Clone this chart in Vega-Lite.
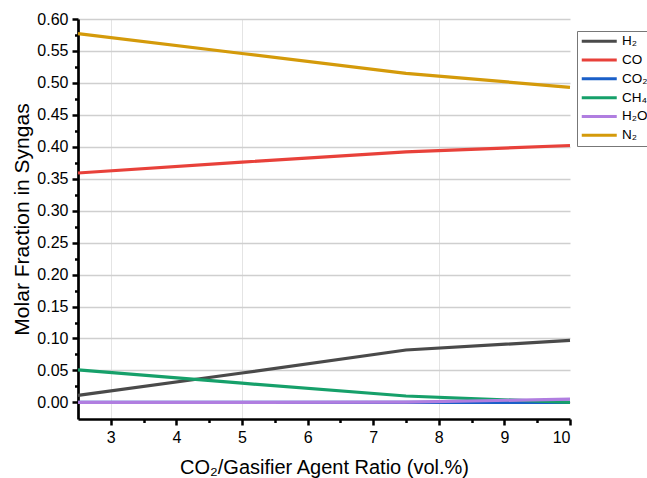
{
  "$schema": "https://vega.github.io/schema/vega-lite/v6.json",
  "autosize": {"type": "none"},
  "padding": {"left": 78, "top": 19, "right": 77, "bottom": 59},
  "width": 492,
  "height": 400,
  "config": {
    "view": {"stroke": null},
    "font": "Liberation Sans",
    "axis": {
      "labelFont": "Liberation Sans",
      "titleFont": "Liberation Sans",
      "labelColor": "#000000",
      "titleColor": "#000000",
      "titleFontWeight": "normal",
      "tickColor": "#000000",
      "domainColor": "#000000"
    }
  },
  "data": {
    "values": [
      {"gas": "H₂", "ratio": 2.5, "fraction": 0.011},
      {"gas": "H₂", "ratio": 5, "fraction": 0.046},
      {"gas": "H₂", "ratio": 7.5, "fraction": 0.082},
      {"gas": "H₂", "ratio": 10, "fraction": 0.097},
      {"gas": "CO", "ratio": 2.5, "fraction": 0.359},
      {"gas": "CO", "ratio": 5, "fraction": 0.376},
      {"gas": "CO", "ratio": 7.5, "fraction": 0.392},
      {"gas": "CO", "ratio": 10, "fraction": 0.402},
      {"gas": "CO₂", "ratio": 2.5, "fraction": 0.0},
      {"gas": "CO₂", "ratio": 5, "fraction": 0.0},
      {"gas": "CO₂", "ratio": 7.5, "fraction": 0.0},
      {"gas": "CO₂", "ratio": 10, "fraction": 0.0},
      {"gas": "CH₄", "ratio": 2.5, "fraction": 0.051},
      {"gas": "CH₄", "ratio": 5, "fraction": 0.030},
      {"gas": "CH₄", "ratio": 7.5, "fraction": 0.010},
      {"gas": "CH₄", "ratio": 10, "fraction": 0.0},
      {"gas": "H₂O", "ratio": 2.5, "fraction": 0.0},
      {"gas": "H₂O", "ratio": 5, "fraction": 0.0},
      {"gas": "H₂O", "ratio": 7.5, "fraction": 0.0005},
      {"gas": "H₂O", "ratio": 10, "fraction": 0.005},
      {"gas": "N₂", "ratio": 2.5, "fraction": 0.577},
      {"gas": "N₂", "ratio": 5, "fraction": 0.546},
      {"gas": "N₂", "ratio": 7.5, "fraction": 0.515},
      {"gas": "N₂", "ratio": 10, "fraction": 0.493}
    ]
  },
  "resolve": {"axis": {"x": "independent", "y": "independent"}},
  "layer": [
    {
      "mark": {"type": "point", "opacity": 0},
      "encoding": {
        "x": {
          "datum": 5,
          "type": "quantitative",
          "axis": {"orient": "bottom", "values": [3, 5, 8], "grid": true, "gridColor": "#e4e4e4", "gridWidth": 1, "ticks": false, "labels": false, "domain": false, "title": null}
        },
        "y": {
          "datum": 0.3,
          "type": "quantitative",
          "axis": {"orient": "left", "values": [0.025, 0.075, 0.125, 0.175, 0.225, 0.275, 0.325, 0.375, 0.425, 0.475, 0.525, 0.575], "grid": false, "labels": false, "domain": false, "tickSize": 3.5, "tickWidth": 2.5, "title": null}
        }
      }
    },
    {
      "mark": {"type": "point", "opacity": 0},
      "encoding": {
        "x": {
          "datum": 5,
          "type": "quantitative",
          "axis": {"orient": "bottom", "values": [3.5, 4.5, 5.5, 6.5, 7.5, 8.5, 9.5], "grid": false, "labels": false, "domain": false, "tickSize": 3.5, "tickWidth": 2.5, "title": null}
        }
      }
    },
    {
      "mark": {"type": "line", "strokeWidth": 3.2},
      "encoding": {
        "x": {
          "field": "ratio",
          "type": "quantitative",
          "scale": {"domain": [2.5, 10], "nice": false, "zero": false},
          "axis": {
            "orient": "bottom",
            "title": "CO₂/Gasifier Agent Ratio (vol.%)",
            "values": [3, 4, 5, 6, 7, 8, 9, 10],
            "grid": false,
            "domainWidth": 2.7,
            "tickSize": 6,
            "tickWidth": 2.5,
            "labelFontSize": 16,
            "labelPadding": 4,
            "titleFontSize": 20,
            "titlePadding": 12
          }
        },
        "y": {
          "field": "fraction",
          "type": "quantitative",
          "scale": {"domain": [-0.026, 0.6], "nice": false, "zero": false},
          "axis": {
            "orient": "left",
            "title": "Molar Fraction in Syngas",
            "values": [0, 0.05, 0.1, 0.15, 0.2, 0.25, 0.3, 0.35, 0.4, 0.45, 0.5, 0.55, 0.6],
            "format": ".2f",
            "grid": true,
            "gridColor": "#cfcfcf",
            "gridWidth": 1.3,
            "domainWidth": 2.7,
            "tickSize": 6,
            "tickWidth": 2.5,
            "labelFontSize": 16,
            "labelPadding": 4,
            "titleFontSize": 21,
            "titlePadding": 4
          }
        },
        "color": {
          "field": "gas",
          "type": "nominal",
          "scale": {
            "domain": ["H₂", "CO", "CO₂", "CH₄", "H₂O", "N₂"],
            "range": ["#4a4a4a", "#e8413a", "#1a5fc8", "#16a06a", "#b07ee0", "#d49a0a"]
          },
          "legend": {
            "orient": "none",
            "legendX": 499,
            "legendY": 12,
            "title": null,
            "symbolType": "M-5,0H5",
            "symbolSize": 49,
            "symbolStrokeWidth": 3,
            "symbolOffset": 12,
            "labelFontSize": 13.5,
            "labelFont": "Liberation Sans",
            "labelColor": "#000000",
            "labelOffset": 16,
            "rowPadding": 3.8,
            "padding": 3.5,
            "strokeColor": "#777777",
            "fillColor": "#ffffff"
          }
        }
      }
    }
  ]
}
